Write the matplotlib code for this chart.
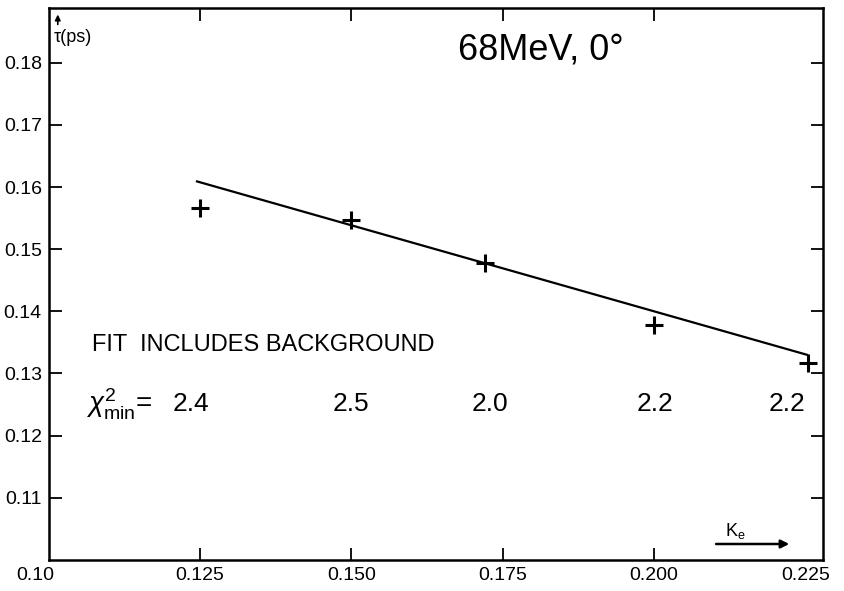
import matplotlib
matplotlib.use("Agg")
import matplotlib.pyplot as plt
from matplotlib import font_manager

# pick a narrow sans if there is one
names = {f.name for f in font_manager.fontManager.ttflist}
FONT = "Liberation Sans Narrow" if "Liberation Sans Narrow" in names else "Liberation Sans"
plt.rcParams["font.family"] = [FONT, "DejaVu Sans"]
plt.rcParams["mathtext.fontset"] = "custom"
plt.rcParams["mathtext.rm"] = FONT
plt.rcParams["mathtext.it"] = FONT + ":italic"

# ----------------------
# Data
# ----------------------
ke = [0.125, 0.150, 0.172, 0.200, 0.2255]
tau_ps = [0.1566, 0.1547, 0.1478, 0.1378, 0.1317]

# straight-line fit drawn over the points
fit_ke = [0.1245, 0.2253]
fit_tau = [0.1609, 0.1330]

# chi^2_min of each fit, written under the points
chi2_x = [0.1235, 0.150, 0.1729, 0.2001, 0.2219]
chi2_vals = ["2.4", "2.5", "2.0", "2.2", "2.2"]

xticks = [0.125, 0.150, 0.175, 0.200, 0.225]
xtick_labels = ["0.125", "0.150", "0.175", "0.200", "0.225"]
yticks = [0.11, 0.12, 0.13, 0.14, 0.15, 0.16, 0.17, 0.18]
ytick_labels = ["0.11", "0.12", "0.13", "0.14", "0.15", "0.16", "0.17", "0.18"]

# ----------------------
# Figure
# ----------------------
fig = plt.figure(figsize=(8.44, 5.91), dpi=100)
ax = fig.add_axes([0.0577, 0.0525, 0.9173, 0.934])

ax.plot(fit_ke, fit_tau, color="black", lw=1.6)
ax.plot(ke, tau_ps, linestyle="none", marker="+", color="black",
        markersize=13, markeredgewidth=2.2)

ax.set_xlim(0.10, 0.2279)
ax.set_ylim(0.10, 0.1888)

for s in ax.spines.values():
    s.set_linewidth(1.8)

ax.set_xticks(xticks[:4])
ax.set_xticklabels(xtick_labels[:4])
ax.set_yticks(yticks)
ax.set_yticklabels(ytick_labels)
ax.tick_params(direction="in", length=9, width=1.3, top=True, right=True,
               labelsize=14)
ax.tick_params(axis="x", pad=5)
ax.tick_params(axis="y", pad=5)

# last x label and the 0.10 corner label sit outside the tick list
ax.text(0.225, -0.012, "0.225", transform=ax.get_xaxis_transform(),
        ha="center", va="top", fontsize=14)
ax.text(-0.017, -0.012, "0.10", transform=ax.transAxes,
        ha="center", va="top", fontsize=14, clip_on=False)

# labels inside the frame
ax.text(0.1813, 0.1821, "68MeV, 0°", ha="center", va="center", fontsize=26)
ax.text(0.1071, 0.1346, "FIT  INCLUDES BACKGROUND", ha="left", va="center",
        fontsize=17)
ax.text(0.1170, 0.1251, r"$\chi^2_{\mathregular{min}}$=", ha="right",
        va="center", fontsize=20)
for x, v in zip(chi2_x, chi2_vals):
    ax.text(x, 0.1251, v, ha="center", va="center", fontsize=19)

# axis names with small arrows
ax.annotate("", xy=(0.1015, 0.1882), xytext=(0.1015, 0.1857),
            arrowprops=dict(arrowstyle="-|>", color="black", lw=1.2,
                            mutation_scale=8))
ax.text(0.1008, 0.1841, "τ(ps)", ha="left", va="center", fontsize=13)

ax.annotate("", xy=(0.2228, 0.10257), xytext=(0.2098, 0.10257),
            arrowprops=dict(arrowstyle="-|>", color="black", lw=1.8,
                            mutation_scale=12))
ax.text(0.2118, 0.1046, r"K$_{\mathregular{e}}$", ha="left", va="center",
        fontsize=13)

plt.savefig("out.png", dpi=100)
